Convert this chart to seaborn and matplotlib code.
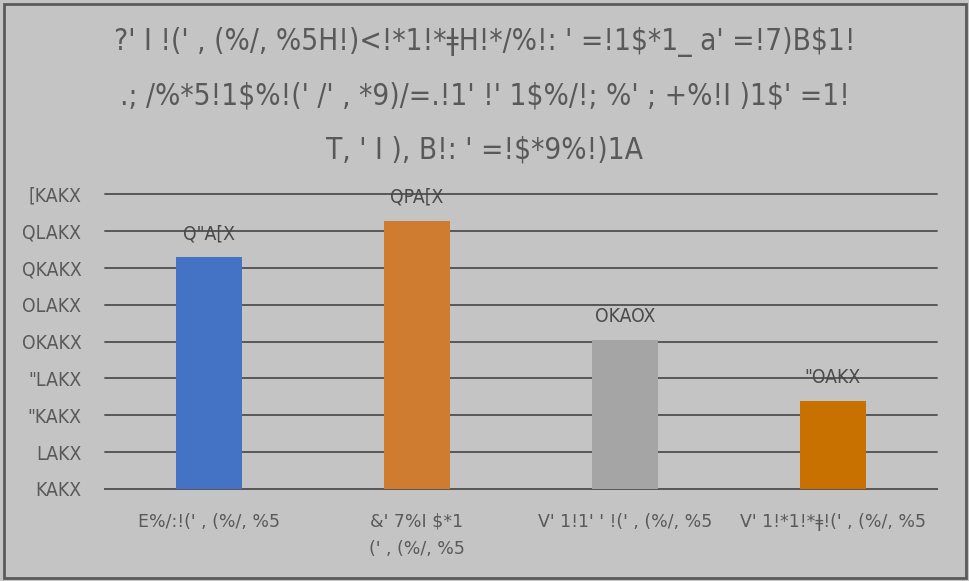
import matplotlib
matplotlib.use("Agg")
import matplotlib.pyplot as plt
import seaborn as sns
from matplotlib import font_manager
from matplotlib.ticker import FixedLocator, FixedFormatter

# chart content (text kept exactly as it appears in the reference)
title_lines = [
    "?' I !(' , (%/, %5H!)<!*1!*ǂH!*/%!: ' =!1$*1_ a' =!7)B$1!",
    ".; /%*5!1$%!(' /' , *9)/=.!1' !' 1$%/!; %' ; +%!I )1$' =1!",
    "T, ' I ), B!: ' =!$*9%!)1A",
]
categories = ["E%/:!(' , (%/, %5", "&' 7%I $*1\n(' , (%/, %5",
              "V' 1!1' ' !(' , (%/, %5", "V' 1!*1!*ǂ!(' , (%/, %5"]
values = [31.4, 36.4, 20.2, 12.0]
bar_labels = ['Q"A[X', 'QPA[X', 'OKAOX', '"OAKX']
y_ticks = [0, 5, 10, 15, 20, 25, 30, 35, 40]
y_tick_labels = ["KAKX", "LAKX", '"KAKX', '"LAKX', "OKAKX",
                 "OLAKX", "QKAKX", "QLAKX", "[KAKX"]
colors = ["#4472c4", "#cf7c31", "#a5a5a5", "#c87000"]

sns.set_theme(style="white")
plt.rcParams['font.family'] = ['DejaVu Sans']
plt.rcParams['text.parse_math'] = False
bg = "#c4c4c4"
txt = "#595959"


def wnum(w):
    return w if isinstance(w, int) else font_manager.weight_dict.get(w, 400)


# look for a narrow, light face; the reference uses a condensed font
narrow = [f for f in font_manager.fontManager.ttflist
          if (f.stretch in ("condensed", "semi-condensed", "extra-condensed")
              or "Narrow" in f.name or "Condensed" in f.name)
          and f.style == "normal"]
narrow.sort(key=lambda f: abs(wnum(f.weight) - 350))
if narrow:
    cond_fp = font_manager.FontProperties(fname=narrow[0].fname)
else:
    cond_fp = font_manager.FontProperties(family="DejaVu Sans")

fig = plt.figure(figsize=(9.7, 5.81), dpi=100, facecolor=bg)
ax = fig.add_axes([105 / 970, 1 - 489 / 581, 832 / 970, 295 / 581])
ax.set_facecolor(bg)
renderer = fig.canvas.get_renderer()


def fit_size(s, target_px, base=20):
    t = fig.text(0, 0, s, fontproperties=cond_fp, fontsize=base)
    w = t.get_window_extent(renderer).width
    t.remove()
    return base * target_px / w


title_size = fit_size(title_lines[0], 740)
tick_size = fit_size("QLAKX", 59)

sns.barplot(x=categories, y=values, hue=categories, palette=colors,
            width=0.32, legend=False, saturation=1, linewidth=0,
            ax=ax, zorder=3)

ax.set_ylim(0, 40)
ax.yaxis.set_major_locator(FixedLocator(y_ticks))
ax.yaxis.set_major_formatter(FixedFormatter(y_tick_labels))
ax.grid(axis="y", color="#585858", linewidth=1.4, zorder=0)
for gl in ax.get_ygridlines():
    gl.set_clip_on(False)
ax.set_axisbelow(True)
for s in ["top", "right", "left"]:
    ax.spines[s].set_visible(False)
ax.spines["bottom"].set_color("#585858")
ax.spines["bottom"].set_linewidth(1.4)
ax.tick_params(axis="both", length=0)
ax.tick_params(axis="y", pad=17, labelcolor=txt)
ax.tick_params(axis="x", pad=17, labelsize=12.5, labelcolor=txt)
for lab in ax.get_yticklabels():
    lab.set_fontproperties(cond_fp)
    lab.set_fontsize(tick_size)
for lab in ax.get_xticklabels():
    lab.set_linespacing(1.65)
ax.set_xlabel("")
ax.set_ylabel("")

for cont, lab in zip(ax.containers, bar_labels):
    ax.bar_label(cont, labels=[lab], padding=10, fontproperties=cond_fp,
                 fontsize=tick_size, color="#4a4a4a")

for i, line in enumerate(title_lines):
    fig.text(0.5, 1 - (42 + 54 * i) / 581, line, ha="center", va="center",
             fontproperties=cond_fp, fontsize=title_size, color=txt)

# outer border
fig.patches.append(plt.Rectangle((4 / 970, 3 / 581), 962 / 970, 574 / 581,
                                 transform=fig.transFigure, fill=False,
                                 edgecolor="#5a5a5a", linewidth=2))

fig.savefig("out.png", dpi=100, facecolor=bg)
